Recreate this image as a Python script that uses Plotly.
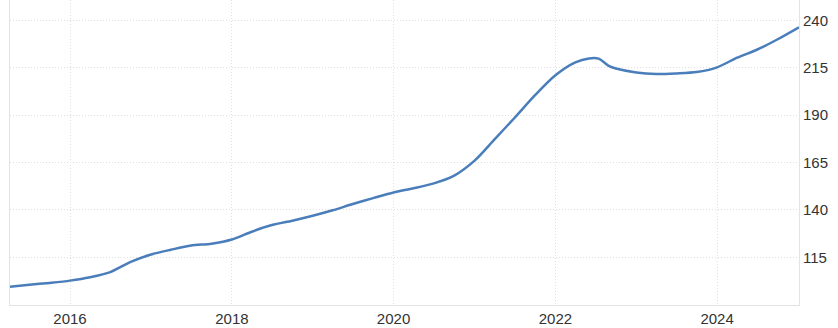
import plotly.graph_objects as go

dates = [
    "2015-04-05", "2015-07-01", "2015-10-01", "2016-01-01", "2016-04-01", "2016-07-01",
    "2016-10-01", "2017-01-01", "2017-04-01", "2017-07-01", "2017-10-01", "2018-01-01",
    "2018-04-01", "2018-07-01", "2018-10-01", "2019-01-01", "2019-04-01", "2019-07-01",
    "2019-10-01", "2020-01-01", "2020-04-01", "2020-07-01", "2020-10-01", "2021-01-01",
    "2021-04-01", "2021-07-01", "2021-10-01", "2022-01-01", "2022-04-01", "2022-06-01",
    "2022-07-15", "2022-09-01", "2022-10-01", "2023-01-01", "2023-04-01", "2023-07-01",
    "2023-10-01", "2024-01-01", "2024-04-01", "2024-07-01", "2024-10-01", "2025-01-05",
]
values = [
    99.5, 100.5, 101.5, 102.7, 104.5, 107.2,
    112.6, 116.5, 119.0, 121.2, 122.2, 124.4,
    128.5, 132.0, 134.3, 136.9, 139.8, 143.1,
    146.2, 149.2, 151.4, 154.0, 158.1, 166.0,
    177.2, 188.6, 200.5, 211.0, 217.8, 219.9,
    219.8, 215.8, 214.6, 212.5, 211.7, 212.0,
    212.7, 215.2, 220.3, 224.6, 230.0, 236.3,
]

year_ticks = ["2016-01-01", "2018-01-01", "2020-01-01", "2022-01-01", "2024-01-01"]
year_labels = ["2016", "2018", "2020", "2022", "2024"]
y_ticks = [115, 140, 165, 190, 215, 240]

fig = go.Figure()
fig.add_trace(go.Scatter(
    x=dates, y=values, mode="lines",
    line=dict(color="#4a7ebb", width=2.5, shape="spline", smoothing=0.8),
    hoverinfo="x+y",
))

font = dict(family="Liberation Sans, Arial, sans-serif", size=15, color="#333333")

fig.update_layout(
    width=838, height=328,
    margin=dict(l=10, r=39, t=0, b=23),
    paper_bgcolor="white", plot_bgcolor="white",
    showlegend=False,
    font=font,
    xaxis=dict(
        type="date",
        range=["2015-04-05", "2025-01-05"],
        tickvals=year_ticks, ticktext=year_labels,
        showgrid=True, gridcolor="#e0e0e0", griddash="1px,2px", gridwidth=1,
        showline=True, linecolor="#e3e3e3", linewidth=1,
        ticks="", zeroline=False, tickfont=font,
    ),
    yaxis=dict(
        side="right",
        range=[89.85, 250.7],
        tickvals=y_ticks,
        showgrid=True, gridcolor="#e0e0e0", griddash="1px,2px", gridwidth=1,
        showline=True, linecolor="#e3e3e3", linewidth=1, mirror=True,
        ticks="", zeroline=False, tickfont=font,
    ),
)

fig.write_html("out.html")
